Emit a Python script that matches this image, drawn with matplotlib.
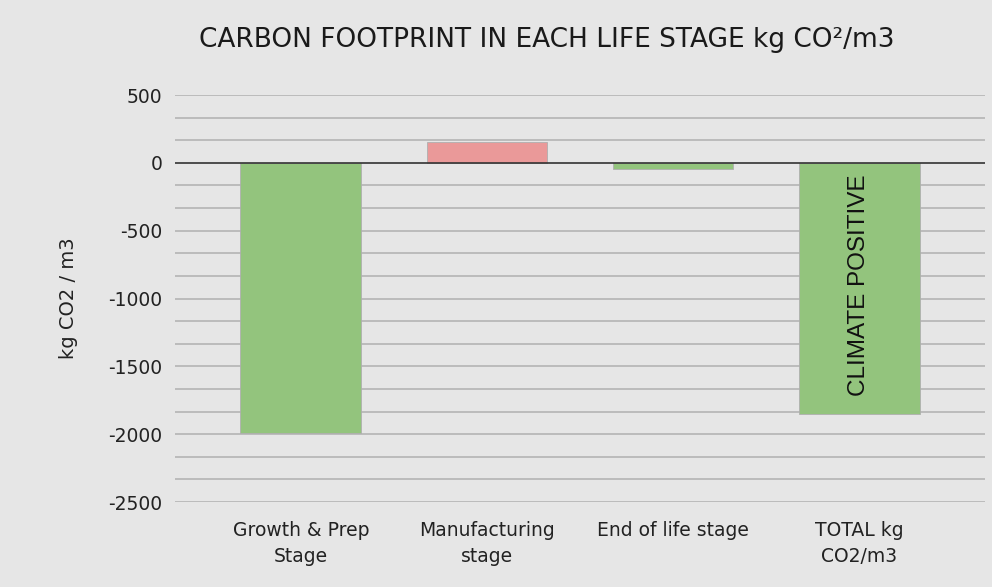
import matplotlib
matplotlib.use("Agg")
import matplotlib.pyplot as plt
import numpy as np

categories = ["Growth & Prep\nStage", "Manufacturing\nstage", "End of life stage", "TOTAL kg\nCO2/m3"]
values = [-1995, 150, -45, -1850]
colors = ["#93C47D", "#EA9999", "#93C47D", "#93C47D"]
yticks = [500, 0, -500, -1000, -1500, -2000, -2500]

bg = "#E6E6E6"
fig = plt.figure(figsize=(9.92, 5.87), dpi=100, facecolor=bg)
ax = fig.add_axes([175/992, 1-502/587, 810/992, 407/587], facecolor=bg)

x = np.arange(len(categories))
ax.set_xlim(-0.677, 3.677)
ax.set_ylim(-2500, 500)

# gridlines (major + minor thirds)
for g in np.arange(-2500, 500.1, 500/3):
    if abs(g) < 1e-6:
        continue
    ax.axhline(g, color="#B8B8B8", lw=1.3, zorder=1)

ax.bar(x, values, width=0.65, color=colors, edgecolor="#AFAFAF", linewidth=0.6, zorder=2)
ax.axhline(0, color="#333333", lw=1.2, zorder=3)

for s in ax.spines.values():
    s.set_visible(False)
ax.set_yticks(yticks)
ax.set_yticklabels([str(t) for t in yticks], fontsize=13.5, family="DejaVu Sans", color="#222222")
ax.set_xticks(x)
ax.set_xticklabels(categories, fontsize=13.5, family="DejaVu Sans", color="#222222", linespacing=1.45)
ax.tick_params(axis="both", length=0)
ax.tick_params(axis="y", pad=9)
ax.tick_params(axis="x", pad=14)

ax.set_ylabel("kg CO2 / m3", fontsize=14, family="DejaVu Sans", color="#222222", labelpad=22)

ax.text(x[3], -900, "CLIMATE POSITIVE", rotation=90, ha="center", va="center",
        fontsize=17.5, family="Liberation Sans", color="#111111", zorder=4)

fig.text(547/992, 1-40/587, "CARBON FOOTPRINT IN EACH LIFE STAGE kg CO²/m3", ha="center", va="center",
         fontsize=19, family="DejaVu Sans", color="#1a1a1a")

fig.savefig("out.png", dpi=100, facecolor=bg)
